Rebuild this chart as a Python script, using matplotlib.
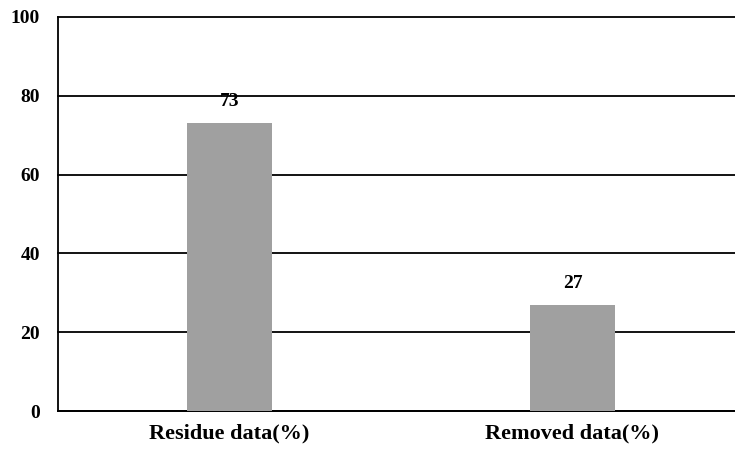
import matplotlib
matplotlib.use('Agg')
import matplotlib.pyplot as plt

categories = ['Residue data(%)', 'Removed data(%)']
percent = [73, 27]
y_ticks = [0, 20, 40, 60, 80, 100]

plt.rcParams['font.family'] = ['Liberation Serif', 'DejaVu Serif']
plt.rcParams['font.weight'] = 'bold'

fig = plt.figure(figsize=(7.35, 4.51), dpi=100)
ax = fig.add_axes([58/735, 40/451, 677/735, 394/451])

x = range(len(categories))
bars = ax.bar(x, percent, width=0.248, color='#a0a0a0', zorder=3)

for b, v in zip(bars, percent):
    ax.text(b.get_x() + b.get_width()/2, v + 3.3, str(v),
            ha='center', va='bottom', fontsize=14, fontweight='bold')

ax.set_xlim(-0.5, 1.474)
ax.set_ylim(0, 100)
ax.set_yticks(y_ticks)
ax.set_yticklabels([str(t) for t in y_ticks], fontsize=14, fontweight='bold')
ax.set_xticks(list(x))
ax.set_xticklabels(categories, fontsize=16, fontweight='bold')
ax.tick_params(axis='both', length=0)
ax.tick_params(axis='y', pad=13)
ax.tick_params(axis='x', pad=9)

ax.yaxis.grid(True, color='black', linewidth=1.3, zorder=1)
for gl in ax.get_ygridlines():
    gl.set_clip_on(False)
ax.set_axisbelow(True)
for side in ['top', 'right']:
    ax.spines[side].set_visible(False)
ax.spines['left'].set_linewidth(1.3)
ax.spines['bottom'].set_linewidth(1.3)

fig.savefig('out.png', dpi=100)
